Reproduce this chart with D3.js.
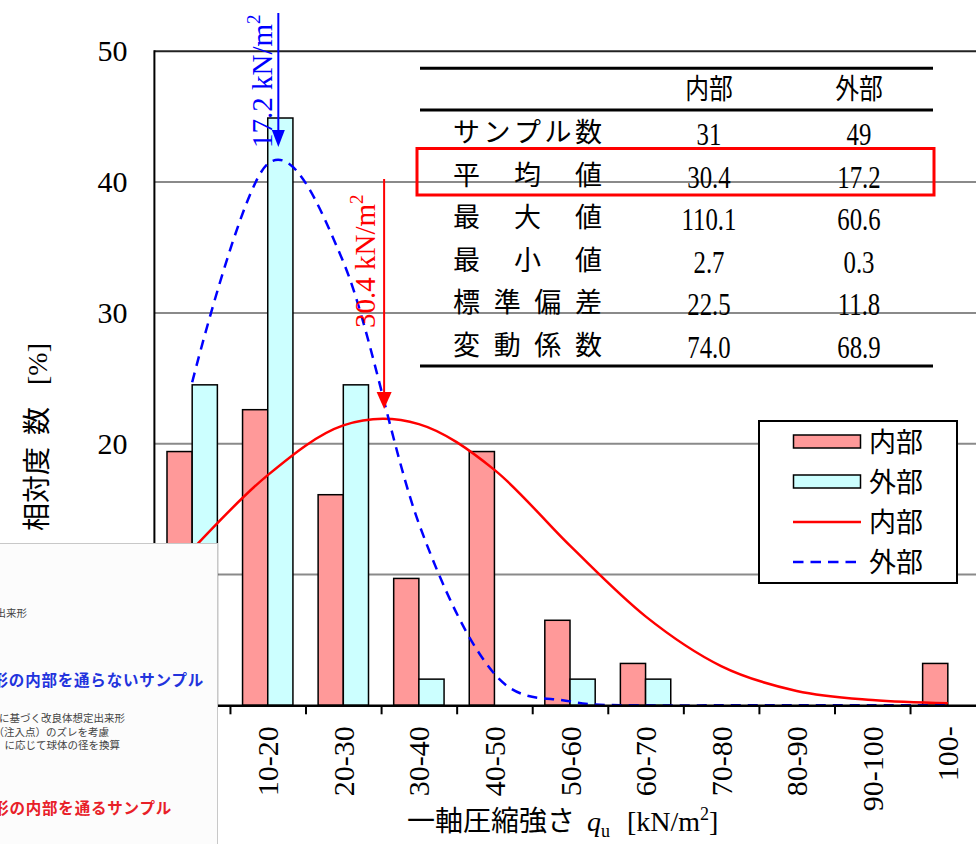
<!DOCTYPE html>
<html><head><meta charset="utf-8">
<script src="https://cdn.jsdelivr.net/npm/d3@7/dist/d3.min.js"></script>
<style>
html,body{margin:0;padding:0;background:#fff;}
svg{display:block;}
</style></head>
<body>
<svg id="chart" width="976" height="844"></svg>
<script>
// ---- data ----
const categories = ["0-10","10-20","20-30","30-40","40-50","50-60","60-70","70-80","80-90","90-100","100-"];
const innerPct = [19.4, 22.6, 16.1, 9.7, 19.4, 6.5, 3.2, 0, 0, 0, 3.2];
const outerPct = [24.5, 44.9, 24.5, 2.0, 0, 2.0, 2.0, 0, 0, 0, 0];
const yTicks = [0, 10, 20, 30, 40, 50];
// smoothed-line values at each category centre (%)
const innerCurve = [11.9, 17.6, 21.4, 21.5, 18.0, 12.2, 6.8, 3.0, 1.1, 0.4, 0.15];
const outerCurve = [24.7, 41.4, 33.9, 13.9, 2.4, 0.3, 0, 0, 0, 0, 0];
const arrowInner = 30.4, arrowOuter = 16.4;   // arrow positions on the qu axis (kN/m2)
const arrowLabels = ["30.4 kN/m", "17.2 kN/m"];
const tableHeader = ["内部", "外部"];
const rowLabels = ["サンプル数","平均値","最大値","最小値","標準偏差","変動係数"];
const innerStats = ["31","30.4","110.1","2.7","22.5","74.0"];
const outerStats = ["49","17.2","60.6","0.3","11.8","68.9"];
const legendLabels = ["内部","外部","内部","外部"];

// ---- layout ----
const svg = d3.select("#chart");
const L = 154.4, R = 985.6, T = 51.3, B = 705.3;
const serif = "'Liberation Serif','Times New Roman',serif";
const cjk = "'Noto Sans CJK JP','Noto Sans CJK SC',sans-serif";

const y = d3.scaleLinear().domain([0, 50]).range([B, T]);
const xBand = d3.scaleBand().domain(categories).range([L, R]).padding(0);
const xLin = d3.scaleLinear().domain([0, 110]).range([L, R]);
const bw = xBand.bandwidth();

// gridlines
svg.append("g").selectAll("line").data(yTicks.filter(d => d > 0)).join("line")
  .attr("x1", L).attr("x2", 976).attr("y1", d => y(d)).attr("y2", d => y(d))
  .attr("stroke", d => d === 50 ? "#222" : "#8a8a8a").attr("stroke-width", 2);

// bars
const gB = svg.append("g");
categories.forEach((c, i) => {
  if (innerPct[i] > 0) gB.append("rect").attr("x", xBand(c) + bw / 6).attr("width", bw / 3)
    .attr("y", y(innerPct[i])).attr("height", B - y(innerPct[i]))
    .attr("fill", "#FF9999").attr("stroke", "#000").attr("stroke-width", 1.5);
  if (outerPct[i] > 0) gB.append("rect").attr("x", xBand(c) + bw / 2).attr("width", bw / 3)
    .attr("y", y(outerPct[i])).attr("height", B - y(outerPct[i]))
    .attr("fill", "#CCFFFF").attr("stroke", "#000").attr("stroke-width", 1.5);
});

// curves (smoothed lines through category centres)
const line = d3.line().x((d, i) => xBand(categories[i]) + bw / 2).y(d => y(d))
  .curve(d3.curveCardinal.tension(0));
svg.append("path").datum(innerCurve).attr("d", line).attr("fill", "none")
  .attr("stroke", "#FF0000").attr("stroke-width", 2.5);
svg.append("path").datum(outerCurve).attr("d", line).attr("fill", "none")
  .attr("stroke", "#0000FF").attr("stroke-width", 2.5).attr("stroke-dasharray", "10,7");

// axes
const yAx = svg.append("g").attr("transform", `translate(${L},0)`)
  .call(d3.axisLeft(y).tickValues(yTicks).tickSize(0).tickPadding(27));
yAx.select(".domain").remove();
yAx.selectAll("text").attr("font-family", serif).attr("font-size", 30).attr("fill", "#000");
svg.append("line").attr("x1", L).attr("x2", L).attr("y1", T - 1).attr("y2", B + 1)
  .attr("stroke", "#000").attr("stroke-width", 2);

const xTickAx = svg.append("g").attr("transform", `translate(0,${B})`)
  .call(d3.axisBottom(xLin).tickValues(d3.range(0, 111, 10)).tickSize(9).tickFormat(""));
xTickAx.select(".domain").attr("stroke-width", 2.5);
xTickAx.selectAll(".tick line").attr("stroke-width", 2);

const xLab = svg.append("g").attr("transform", `translate(0,${B})`)
  .call(d3.axisBottom(xBand).tickSize(0));
xLab.select(".domain").remove();
xLab.selectAll("text").attr("font-family", serif).attr("font-size", 30).attr("fill", "#000")
  .attr("transform", "rotate(-90)").attr("text-anchor", "end")
  .attr("x", -21).attr("y", 0).attr("dy", "0.35em");

// axis titles
const xt = svg.append("text").attr("y", 831).attr("font-size", 28).attr("fill", "#000");
xt.append("tspan").attr("x", 407).attr("font-family", cjk).text("一軸圧縮強さ");
xt.append("tspan").attr("x", 587).attr("font-family", serif).attr("font-style", "italic").text("q");
xt.append("tspan").attr("font-family", serif).attr("font-size", 18).attr("dy", 6).text("u");
xt.append("tspan").attr("x", 627).attr("font-family", serif).attr("dy", -6).text("[kN/m");
xt.append("tspan").attr("font-family", serif).attr("font-size", 18).attr("dy", -11).text("2");
xt.append("tspan").attr("font-family", serif).attr("dy", 11).text("]");

const yt = svg.append("text").attr("transform", "translate(47,531) rotate(-90)")
  .attr("font-size", 28).attr("fill", "#000");
yt.append("tspan").attr("x", 0).attr("font-family", cjk).text("相対度");
yt.append("tspan").attr("x", 96).attr("font-family", cjk).text("数");
yt.append("tspan").attr("x", 146).attr("font-family", serif).text("[%]");

// arrows
function arrow(v, y0, tipY, color, half) {
  const xx = xLin(v);
  svg.append("line").attr("x1", xx).attr("x2", xx).attr("y1", y0).attr("y2", tipY - 14)
    .attr("stroke", color).attr("stroke-width", 2);
  svg.append("path").attr("d", `M${xx - half},${tipY - 17}L${xx + half},${tipY - 17}L${xx},${tipY}Z`)
    .attr("fill", color);
}
arrow(arrowOuter, 13, 147, "#0000FF", 6.5);
arrow(arrowInner, 179, 409, "#FF0000", 7.5);
function rotLabel(tx, ty, txt, color) {
  const t = svg.append("text").attr("transform", `translate(${tx},${ty}) rotate(-90)`)
    .attr("font-family", serif).attr("font-size", 29).attr("fill", color);
  t.append("tspan").text(txt);
  t.append("tspan").attr("font-size", 19).attr("dy", -12).text("2");
}
rotLabel(272, 148, arrowLabels[1], "#0000FF");
rotLabel(375, 328, arrowLabels[0], "#FF0000");

// table
const tg = svg.append("g");
[68.3, 110, 366].forEach(yy => tg.append("line").attr("x1", 420).attr("x2", 933)
  .attr("y1", yy).attr("y2", yy).attr("stroke", "#000").attr("stroke-width", 3));
const colX = [709, 859];
tableHeader.forEach((h, i) => tg.append("text")
  .attr("transform", `translate(${colX[i]},99) scale(0.85,1)`).attr("text-anchor", "middle")
  .attr("font-family", cjk).attr("font-size", 28).attr("fill", "#000").text(h));
rowLabels.forEach((lab, r) => {
  const chars = Array.from(lab);
  const cw = 27, x0 = 453, x1 = 602;
  const by = 142 + 42.6 * r;
  chars.forEach((ch, k) => {
    const cx = x0 + cw / 2 + k * (x1 - x0 - cw) / (chars.length - 1);
    tg.append("text").attr("x", cx).attr("y", by).attr("text-anchor", "middle")
      .attr("font-family", cjk).attr("font-size", 27).attr("fill", "#000").text(ch);
  });
  [innerStats[r], outerStats[r]].forEach((v, i) => tg.append("text")
    .attr("transform", `translate(${colX[i]},${145 + 42.6 * r}) scale(0.8,1)`)
    .attr("text-anchor", "middle").attr("font-family", serif).attr("font-size", 31)
    .attr("fill", "#000").text(v));
});
tg.append("rect").attr("x", 417).attr("y", 148.5).attr("width", 517).attr("height", 46.5)
  .attr("fill", "none").attr("stroke", "#FF0000").attr("stroke-width", 3);

// legend
const lg = svg.append("g");
lg.append("rect").attr("x", 759).attr("y", 421).attr("width", 198).attr("height", 162)
  .attr("fill", "#fff").attr("stroke", "#000").attr("stroke-width", 2);
const ly = [442, 482, 522, 562];
lg.append("rect").attr("x", 793.5).attr("y", ly[0] - 7).attr("width", 67).attr("height", 13)
  .attr("fill", "#FF9999").attr("stroke", "#000").attr("stroke-width", 1.5);
lg.append("rect").attr("x", 793.5).attr("y", ly[1] - 7).attr("width", 67).attr("height", 13)
  .attr("fill", "#CCFFFF").attr("stroke", "#000").attr("stroke-width", 1.5);
lg.append("line").attr("x1", 793).attr("x2", 861).attr("y1", ly[2]).attr("y2", ly[2])
  .attr("stroke", "#FF0000").attr("stroke-width", 2.5);
lg.append("line").attr("x1", 793).attr("x2", 861).attr("y1", ly[3]).attr("y2", ly[3])
  .attr("stroke", "#0000FF").attr("stroke-width", 2.5).attr("stroke-dasharray", "10.5,7");
legendLabels.forEach((t, i) => lg.append("text").attr("x", 869).attr("y", ly[i])
  .attr("dy", "0.36em").attr("font-family", cjk).attr("font-size", 27).attr("fill", "#000").text(t));

// overlapping screenshot fragment (bottom-left)
const og = svg.append("g");
og.append("rect").attr("x", -2).attr("y", 543.5).attr("width", 219.5).attr("height", 310)
  .attr("fill", "#fcfcfc").attr("stroke", "#c8c8c8").attr("stroke-width", 1);
const small = [["改良体想定出来形", 27, 617], ["に基づく改良体想定出来形", 125, 722], ["（注入点）のズレを考慮", 109, 736], ["に応じて球体の径を換算", 120, 749]];
small.forEach(s => og.append("text").attr("x", s[1]).attr("y", s[2]).attr("text-anchor", "end")
  .attr("font-family", cjk).attr("font-size", 10.5).attr("fill", "#444").text(s[0]));
og.append("text").attr("x", 204).attr("y", 686).attr("text-anchor", "end")
  .attr("font-family", cjk).attr("font-weight", "bold").attr("font-size", 15.5).attr("letter-spacing", 0.8)
  .attr("fill", "#2233dd").text("形の内部を通らないサンプル");
og.append("text").attr("x", 172).attr("y", 814).attr("text-anchor", "end")
  .attr("font-family", cjk).attr("font-weight", "bold").attr("font-size", 15.5).attr("letter-spacing", 0.8)
  .attr("fill", "#e82028").text("形の内部を通るサンプル");
</script>
</body></html>
